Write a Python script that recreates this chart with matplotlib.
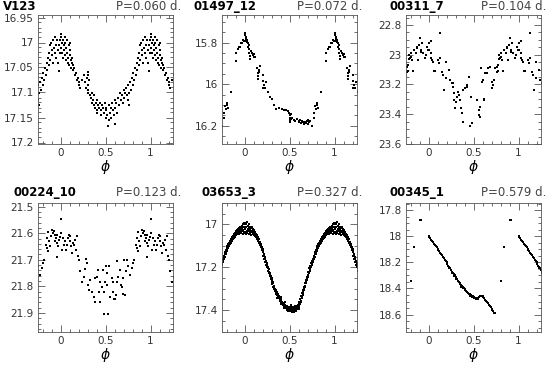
import numpy as np
import matplotlib
matplotlib.use("Agg")
import matplotlib.pyplot as plt
from matplotlib.ticker import MultipleLocator, FuncFormatter

# ---- data: phase (0..1) and magnitude ----
names = ["V123", "01497_12", "00311_7", "00224_10", "03653_3", "00345_1"]
periods = ["P=0.060 d.", "P=0.072 d.", "P=0.104 d.", "P=0.123 d.", "P=0.327 d.", "P=0.579 d."]

v123_phase = [0.00, 0.01, 0.02, 0.005, 0.015, 0.025, 0.03, 0.035, 0.04, 0.045, 0.05, 0.055,
              0.06, 0.065, 0.07, 0.075, 0.08, 0.085, 0.09, 0.095, 0.10, 0.105, 0.11, 0.115,
              0.12, 0.125, 0.13, 0.135, 0.14, 0.15, 0.16, 0.17, 0.18, 0.19, 0.20, 0.21,
              0.22, 0.24, 0.26, 0.27, 0.28, 0.29, 0.30, 0.305, 0.31, 0.32, 0.33, 0.34,
              0.35, 0.355, 0.36, 0.37, 0.375, 0.38, 0.39, 0.40, 0.405, 0.41, 0.42, 0.43,
              0.44, 0.45, 0.455, 0.46, 0.47, 0.48, 0.49, 0.50, 0.505, 0.51, 0.52, 0.53,
              0.535, 0.54, 0.55, 0.56, 0.565, 0.57, 0.58, 0.59, 0.60, 0.605, 0.61, 0.62,
              0.63, 0.64, 0.65, 0.66, 0.67, 0.68, 0.69, 0.70, 0.71, 0.72, 0.73, 0.74,
              0.75, 0.755, 0.76, 0.765, 0.77, 0.78, 0.79, 0.80, 0.81, 0.82, 0.83, 0.84,
              0.85, 0.855, 0.86, 0.87, 0.875, 0.88, 0.885, 0.89, 0.90, 0.91, 0.915, 0.92,
              0.93, 0.935, 0.94, 0.95, 0.955, 0.96, 0.97, 0.975, 0.98, 0.985, 0.99, 0.995,
              0.30, 0.31]
v123_mag = [16.982, 16.99, 17.0, 17.01, 17.02, 17.03, 16.995, 17.005, 17.015, 16.99, 17.025, 17.0,
            17.035, 17.01, 16.995, 17.02, 17.04, 17.03, 17.005, 17.045, 17.0, 17.015, 17.025, 17.035,
            17.05, 17.04, 17.03, 17.045, 17.055, 17.05, 17.065, 17.06, 17.075, 17.07, 17.085, 17.08,
            17.09, 17.075, 17.065, 17.08, 17.09, 17.07, 17.085, 17.1, 17.095, 17.075, 17.105, 17.11,
            17.1, 17.12, 17.115, 17.125, 17.105, 17.13, 17.12, 17.135, 17.115, 17.14, 17.125, 17.13,
            17.12, 17.135, 17.145, 17.125, 17.13, 17.14, 17.12, 17.135, 17.15, 17.13, 17.145, 17.167,
            17.125, 17.155, 17.14, 17.13, 17.15, 17.12, 17.135, 17.145, 17.163, 17.115, 17.13, 17.12,
            17.14, 17.11, 17.125, 17.1, 17.115, 17.105, 17.12, 17.095, 17.11, 17.1, 17.09, 17.105,
            17.085, 17.115, 17.1, 17.125, 17.08, 17.095, 17.07, 17.085, 17.06, 17.075, 17.05, 17.065,
            17.04, 17.055, 17.03, 17.045, 17.02, 17.005, 17.035, 17.0, 17.015, 17.025, 16.995, 17.04,
            17.01, 16.99, 17.02, 17.005, 17.03, 16.995, 17.015, 17.04, 17.056, 17.005, 17.02, 16.995,
            17.058, 17.065]

s01497_phase = [0.0, 0.01, 0.015, 0.005, 0.02, 0.025, 0.03, 0.035, 0.04, 0.045, 0.05, 0.055,
                0.06, 0.065, 0.07, 0.08, 0.09, 0.10, 0.11, 0.12, 0.14, 0.145, 0.15, 0.155,
                0.16, 0.165, 0.175, 0.20, 0.205, 0.21, 0.215, 0.22, 0.23, 0.24, 0.26, 0.28,
                0.30, 0.33, 0.35, 0.38, 0.42, 0.44, 0.46, 0.48, 0.49, 0.50, 0.505, 0.50,
                0.51, 0.52, 0.515, 0.53, 0.55, 0.56, 0.58, 0.60, 0.61, 0.62, 0.63, 0.64,
                0.65, 0.66, 0.67, 0.68, 0.69, 0.70, 0.71, 0.72, 0.73, 0.745, 0.77, 0.775,
                0.78, 0.79, 0.80, 0.81, 0.815, 0.845, 0.90, 0.91, 0.93, 0.94, 0.95, 0.96,
                0.97, 0.98, 0.99]
s01497_mag = [15.755, 15.765, 15.78, 15.79, 15.775, 15.795, 15.785, 15.80, 15.82, 15.81, 15.83, 15.85,
              15.865, 15.88, 15.84, 15.85, 15.86, 15.855, 15.87, 15.87, 15.92, 15.96, 15.945, 15.975,
              15.94, 15.93, 15.91, 15.955, 15.985, 16.02, 16.02, 16.005, 16.02, 15.99, 16.035, 16.06,
              16.07, 16.10, 16.12, 16.115, 16.12, 16.125, 16.125, 16.13, 16.14, 16.15, 16.16, 16.17,
              16.18, 16.145, 16.165, 16.16, 16.17, 16.175, 16.165, 16.175, 16.18, 16.17, 16.185, 16.175,
              16.18, 16.19, 16.18, 16.185, 16.175, 16.17, 16.19, 16.18, 16.175, 16.20, 16.16, 16.14,
              16.105, 16.12, 16.09, 16.10, 16.115, 16.035, 15.89, 15.85, 15.83, 15.82, 15.82, 15.80,
              15.80, 15.785, 15.79]

s00311_phase = [0.0, 0.011, 0.023, 0.023, 0.038, 0.049, 0.056, 0.068, 0.03, 0.124, 0.105, 0.117,
                0.132, 0.154, 0.162, 0.173, 0.192, 0.199, 0.229, 0.244, 0.256, 0.267, 0.274, 0.282,
                0.286, 0.293, 0.305, 0.32, 0.331, 0.342, 0.35, 0.357, 0.368, 0.38, 0.387, 0.406,
                0.425, 0.432, 0.455, 0.462, 0.47, 0.481, 0.538, 0.556, 0.556, 0.575, 0.568, 0.583,
                0.594, 0.605, 0.613, 0.62, 0.632, 0.65, 0.658, 0.688, 0.707, 0.718, 0.726, 0.707,
                0.744, 0.756, 0.763, 0.771, 0.782, 0.793, 0.80, 0.808, 0.82, 0.838, 0.857, 0.868,
                0.876, 0.883, 0.895, 0.906, 0.914, 0.921, 0.932, 0.944, 0.959, 0.97, 0.981, 0.989,
                0.775, 0.823, 0.786]
s00311_mag = [22.92, 22.97, 22.99, 23.02, 23.035, 23.046, 23.11, 23.11, 22.905, 22.856, 23.035, 23.057,
              23.024, 23.113, 23.136, 23.237, 23.158, 23.046, 23.102, 23.169, 23.192, 23.187, 23.219, 23.254,
              23.304, 23.36, 23.315, 23.281, 23.248, 23.27, 23.304, 23.36, 23.393, 23.449, 23.237, 23.225,
              23.214, 23.203, 23.151, 23.478, 23.281, 23.456, 23.304, 23.371, 23.404, 23.416, 23.353, 23.091,
              23.181, 23.169, 23.304, 23.299, 23.125, 23.12, 23.091, 23.08, 23.181, 23.203, 23.169, 23.225,
              23.091, 23.08, 23.113, 23.069, 23.0, 23.024, 22.99, 23.013, 23.035, 22.968, 22.99, 22.946,
              22.957, 23.035, 22.934, 22.89, 22.968, 22.98, 22.923, 22.99, 23.024, 23.0, 22.946, 22.968,
              23.11, 23.11, 23.03]

s00224_phase = [0.908, 0.919, 0.926, 0.934, 0.945, 0.938, 0.956, 0.963, 0.971, 0.982, 0.993, 0.0,
                0.007, 0.018, 0.029, 0.044, 0.055, 0.066, 0.074, 0.085, 0.092, 0.103, 0.11, 0.118,
                0.129, 0.14, 0.154, 0.165, 0.176, 0.184, 0.191, 0.202, 0.956, 0.221, 0.239, 0.257,
                0.268, 0.279, 0.294, 0.301, 0.313, 0.331, 0.349, 0.368, 0.386, 0.379, 0.404, 0.412,
                0.423, 0.434, 0.441, 0.46, 0.471, 0.478, 0.485, 0.496, 0.507, 0.515, 0.522, 0.533,
                0.544, 0.551, 0.57, 0.581, 0.588, 0.596, 0.607, 0.618, 0.625, 0.632, 0.643, 0.662,
                0.669, 0.68, 0.691, 0.699, 0.706, 0.717, 0.728, 0.743, 0.754, 0.772, 0.79, 0.809,
                0.82, 0.838, 0.846, 0.853, 0.864, 0.875, 0.882, 0.89, 0.862]
s00224_mag = [21.586, 21.599, 21.592, 21.608, 21.618, 21.63, 21.637, 21.605, 21.649, 21.624, 21.615, 21.548,
              21.599, 21.662, 21.618, 21.643, 21.628, 21.662, 21.643, 21.618, 21.605, 21.63, 21.611, 21.649,
              21.675, 21.637, 21.643, 21.624, 21.662, 21.611, 21.687, 21.70, 21.691, 21.744, 21.782, 21.763,
              21.734, 21.696, 21.713, 21.795, 21.814, 21.776, 21.82, 21.839, 21.858, 21.77, 21.763, 21.738,
              21.82, 21.858, 21.782, 21.801, 21.738, 21.903, 21.82, 21.782, 21.725, 21.751, 21.795, 21.903,
              21.725, 21.839, 21.77, 21.782, 21.82, 21.846, 21.846, 21.833, 21.706, 21.782, 21.763, 21.738,
              21.795, 21.801, 21.827, 21.77, 21.70, 21.833, 21.744, 21.70, 21.725, 21.757, 21.732, 21.713,
              21.70, 21.643, 21.656, 21.618, 21.668, 21.63, 21.649, 21.611, 21.597]

s03653_phase = [0.00, 0.01, 0.02, 0.03, 0.04, 0.05, 0.06, 0.07, 0.08, 0.09, 0.10, 0.11, 0.12, 0.13,
                0.14, 0.15, 0.16, 0.17, 0.18, 0.19, 0.20, 0.21, 0.22, 0.23, 0.24, 0.25, 0.26, 0.27,
                0.28, 0.29, 0.30, 0.31, 0.32, 0.33, 0.34, 0.35, 0.36, 0.37, 0.38, 0.39, 0.40, 0.41,
                0.42, 0.43, 0.44, 0.45, 0.46, 0.47, 0.48, 0.49, 0.50, 0.51, 0.52, 0.53, 0.54, 0.55,
                0.56, 0.57, 0.58, 0.59, 0.60, 0.61, 0.62, 0.63, 0.64, 0.65, 0.66, 0.67, 0.68, 0.69,
                0.70, 0.71, 0.72, 0.73, 0.74, 0.75, 0.76, 0.77, 0.78, 0.79, 0.80, 0.81, 0.82, 0.83,
                0.84, 0.85, 0.86, 0.87, 0.88, 0.89, 0.90, 0.91, 0.92, 0.93, 0.94, 0.95, 0.96, 0.97,
                0.98, 0.99]
s03653_mag_a = [17.0, 16.995, 17.0, 16.99, 17.005, 17.0, 17.01, 17.015, 17.01, 17.02, 17.025, 17.03, 17.035, 17.045,
                17.05, 17.06, 17.07, 17.08, 17.09, 17.105, 17.115, 17.13, 17.145, 17.16, 17.17, 17.185, 17.2, 17.21,
                17.225, 17.24, 17.25, 17.265, 17.275, 17.29, 17.3, 17.31, 17.315, 17.325, 17.335, 17.34, 17.35, 17.355,
                17.36, 17.365, 17.37, 17.375, 17.38, 17.38, 17.385, 17.39, 17.385, 17.39, 17.395, 17.39, 17.4, 17.395,
                17.39, 17.385, 17.38, 17.375, 17.37, 17.36, 17.35, 17.335, 17.32, 17.305, 17.29, 17.275, 17.26, 17.245,
                17.235, 17.22, 17.205, 17.195, 17.18, 17.17, 17.16, 17.145, 17.13, 17.12, 17.11, 17.1, 17.09, 17.085,
                17.075, 17.07, 17.06, 17.055, 17.045, 17.04, 17.035, 17.03, 17.025, 17.02, 17.015, 17.01, 17.01, 17.005,
                17.0, 16.995]
s03653_mag_b = [17.04, 17.035, 17.045, 17.04, 17.03, 17.045, 17.04, 17.05, 17.035, 17.045, 17.05, 17.04, 17.055, 17.06,
                17.07, 17.075, 17.085, 17.095, 17.105, 17.12, 17.13, 17.145, 17.16, 17.175, 17.19, 17.2, 17.215, 17.225,
                17.24, 17.255, 17.27, 17.28, 17.29, 17.3, 17.31, 17.325, 17.33, 17.34, 17.345, 17.355, 17.36, 17.365,
                17.37, 17.375, 17.38, 17.385, 17.39, 17.395, 17.39, 17.4, 17.395, 17.405, 17.385, 17.405, 17.385, 17.41,
                17.4, 17.405, 17.395, 17.39, 17.385, 17.38, 17.37, 17.355, 17.34, 17.325, 17.305, 17.29, 17.275, 17.26,
                17.245, 17.235, 17.22, 17.21, 17.2, 17.185, 17.175, 17.16, 17.15, 17.14, 17.125, 17.115, 17.105, 17.1,
                17.09, 17.085, 17.075, 17.07, 17.065, 17.06, 17.05, 17.05, 17.045, 17.04, 17.045, 17.035, 17.04, 17.03,
                17.045, 17.035]
s03653_phase_c = [0.005, 0.015, 0.025, 0.035, 0.045, 0.055, 0.065, 0.075, 0.085, 0.095, 0.105, 0.115,
                  0.125, 0.135, 0.145, 0.155, 0.165, 0.175, 0.185, 0.195, 0.205, 0.215, 0.225, 0.235,
                  0.245, 0.255, 0.265, 0.275, 0.285, 0.295, 0.305, 0.315, 0.325, 0.335, 0.345, 0.355,
                  0.365, 0.375, 0.385, 0.395, 0.405, 0.415, 0.425, 0.435, 0.445, 0.455, 0.465, 0.475,
                  0.485, 0.495, 0.505, 0.515, 0.525, 0.535, 0.545, 0.555, 0.565, 0.575, 0.585, 0.595,
                  0.605, 0.615, 0.625, 0.635, 0.645, 0.655, 0.665, 0.675, 0.685, 0.695, 0.705, 0.715,
                  0.725, 0.735, 0.745, 0.755, 0.765, 0.775, 0.785, 0.795, 0.805, 0.815, 0.825, 0.835,
                  0.845, 0.855, 0.865, 0.875, 0.885, 0.895, 0.905, 0.915, 0.925, 0.935, 0.945, 0.955,
                  0.965, 0.975, 0.985, 0.995,
                  0.36, 0.40, 0.44, 0.48, 0.52, 0.56, 0.60, 0.41, 0.45]
s03653_mag_c = [17.02, 17.01, 17.03, 17.02, 17.015, 17.03, 17.025, 17.035, 17.03, 17.04, 17.04, 17.045,
                17.05, 17.055, 17.065, 17.07, 17.08, 17.09, 17.1, 17.115, 17.125, 17.14, 17.15, 17.17,
                17.18, 17.195, 17.205, 17.22, 17.235, 17.245, 17.26, 17.27, 17.285, 17.3, 17.305, 17.32,
                17.33, 17.335, 17.345, 17.35, 17.355, 17.365, 17.37, 17.38, 17.375, 17.385, 17.39, 17.4,
                17.395, 17.405, 17.4, 17.395, 17.41, 17.395, 17.405, 17.4, 17.395, 17.39, 17.385, 17.38,
                17.375, 17.37, 17.36, 17.345, 17.33, 17.315, 17.3, 17.285, 17.27, 17.255, 17.24, 17.225,
                17.215, 17.2, 17.19, 17.175, 17.165, 17.155, 17.14, 17.13, 17.12, 17.11, 17.1, 17.09,
                17.085, 17.075, 17.065, 17.06, 17.055, 17.045, 17.04, 17.04, 17.035, 17.03, 17.025, 17.03,
                17.02, 17.015, 17.025, 17.01,
                17.345, 17.37, 17.39, 17.405, 17.375, 17.38, 17.395, 17.34, 17.36]

s00345_phase = [0.00, 0.01, 0.02, 0.03, 0.04, 0.05, 0.06, 0.07, 0.08, 0.09, 0.10, 0.11, 0.12, 0.13,
                0.14, 0.15, 0.16, 0.17, 0.18, 0.19, 0.20, 0.21, 0.22, 0.23, 0.24, 0.25, 0.26, 0.27,
                0.28, 0.29, 0.30, 0.31, 0.32, 0.33, 0.34, 0.35, 0.36, 0.37, 0.38, 0.39, 0.40, 0.41,
                0.42, 0.43, 0.44, 0.45, 0.46, 0.47, 0.48, 0.49, 0.50, 0.51, 0.52, 0.53, 0.54, 0.55,
                0.56, 0.57, 0.58, 0.59, 0.60, 0.61, 0.62, 0.63, 0.64, 0.65, 0.66, 0.67, 0.68, 0.69,
                0.70, 0.71, 0.72, 0.73, 0.74,
                0.205, 0.225, 0.245, 0.265, 0.285, 0.305, 0.325, 0.345, 0.365, 0.385, 0.405, 0.425,
                0.445, 0.465, 0.485, 0.505, 0.525, 0.545,
                0.80, 0.843, 0.90, 0.912, 0.922]
s00345_mag = [17.994, 18.005, 18.015, 18.025, 18.035, 18.045, 18.055, 18.065, 18.075, 18.085, 18.095, 18.105,
              18.115, 18.125, 18.135, 18.145, 18.155, 18.165, 18.18, 18.19, 18.2, 18.21, 18.225, 18.235,
              18.245, 18.255, 18.27, 18.28, 18.29, 18.3, 18.31, 18.32, 18.33, 18.34, 18.35, 18.36,
              18.37, 18.38, 18.39, 18.395, 18.405, 18.41, 18.42, 18.425, 18.435, 18.44, 18.445, 18.45,
              18.455, 18.46, 18.465, 18.47, 18.47, 18.475, 18.475, 18.47, 18.465, 18.46, 18.455, 18.455,
              18.46, 18.465, 18.475, 18.485, 18.495, 18.505, 18.515, 18.525, 18.535, 18.545, 18.555, 18.565,
              18.575, 18.585, 18.59,
              18.215, 18.24, 18.26, 18.285, 18.305, 18.325, 18.345, 18.365, 18.385, 18.4, 18.415, 18.43,
              18.445, 18.455, 18.465, 18.475, 18.48, 18.48,
              18.34, 18.08, 17.875, 17.877, 17.872]

series = [
    (v123_phase, v123_mag),
    (s01497_phase, s01497_mag),
    (s00311_phase, s00311_mag),
    (s00224_phase, s00224_mag),
    (s03653_phase + s03653_phase + s03653_phase_c, s03653_mag_a + s03653_mag_b + s03653_mag_c),
    (s00345_phase, s00345_mag),
]

# ---- layout (pixels in a 547x365 image) ----
W, H = 547, 365
ax_left = [38, 222, 406, 38, 222, 406]
ax_top = [15, 15, 15, 203, 203, 203]
ax_w, ax_h = 135, 129
ylims = [(17.203, 16.945), (16.287, 15.667), (23.6, 22.733),
         (21.972, 21.486), (17.502, 16.9), (18.734, 17.744)]
ymajor = [0.05, 0.2, 0.2, 0.1, 0.2, 0.2]
yminor = [0.01, 0.05, 0.05, 0.02, 0.05, 0.05]
name_x = [3, 193, 390, 13, 202, 389]
per_x = [181, 362, 546, 181, 362, 546]
title_base = [10, 10, 10, 196, 196, 196]

grey = "#555555"
fig = plt.figure(figsize=(W / 100, H / 100), dpi=100)

for i in range(6):
    l, t = ax_left[i], ax_top[i]
    ax = fig.add_axes([l / W, 1 - (t + ax_h) / H, ax_w / W, ax_h / H])
    ph = np.array(series[i][0])
    mg = np.array(series[i][1])
    for shift in (-1, 0, 1):
        ax.plot(ph + shift, mg, ls="none", marker="s", ms=1.6, mew=0, color="k")
    ax.set_xlim(-0.25, 1.25)
    ax.set_ylim(*ylims[i])
    ax.xaxis.set_major_locator(MultipleLocator(0.5))
    ax.xaxis.set_minor_locator(MultipleLocator(0.1))
    ax.yaxis.set_major_locator(MultipleLocator(ymajor[i]))
    ax.yaxis.set_minor_locator(MultipleLocator(yminor[i]))
    fmt = FuncFormatter(lambda v, pos: "%g" % round(v, 3))
    ax.xaxis.set_major_formatter(fmt)
    ax.yaxis.set_major_formatter(fmt)
    ax.tick_params(which="both", direction="in", top=True, right=True,
                   color=grey, width=0.6, labelsize=7.5, labelcolor="#333333", pad=3)
    ax.tick_params(which="major", length=5)
    ax.tick_params(which="minor", length=2.5)
    for sp in ax.spines.values():
        sp.set_color(grey)
        sp.set_linewidth(0.6)
    ax.set_xlabel(r"$\phi$", fontsize=10, labelpad=0)

    base = title_base[i]
    fig.text(name_x[i] / W, 1 - base / H, names[i], fontsize=8.5, fontweight="bold",
             ha="left", va="baseline")
    fig.text(per_x[i] / W, 1 - base / H, periods[i], fontsize=8.5, color="#444444",
             ha="right", va="baseline")

fig.savefig("out.png", dpi=100)
